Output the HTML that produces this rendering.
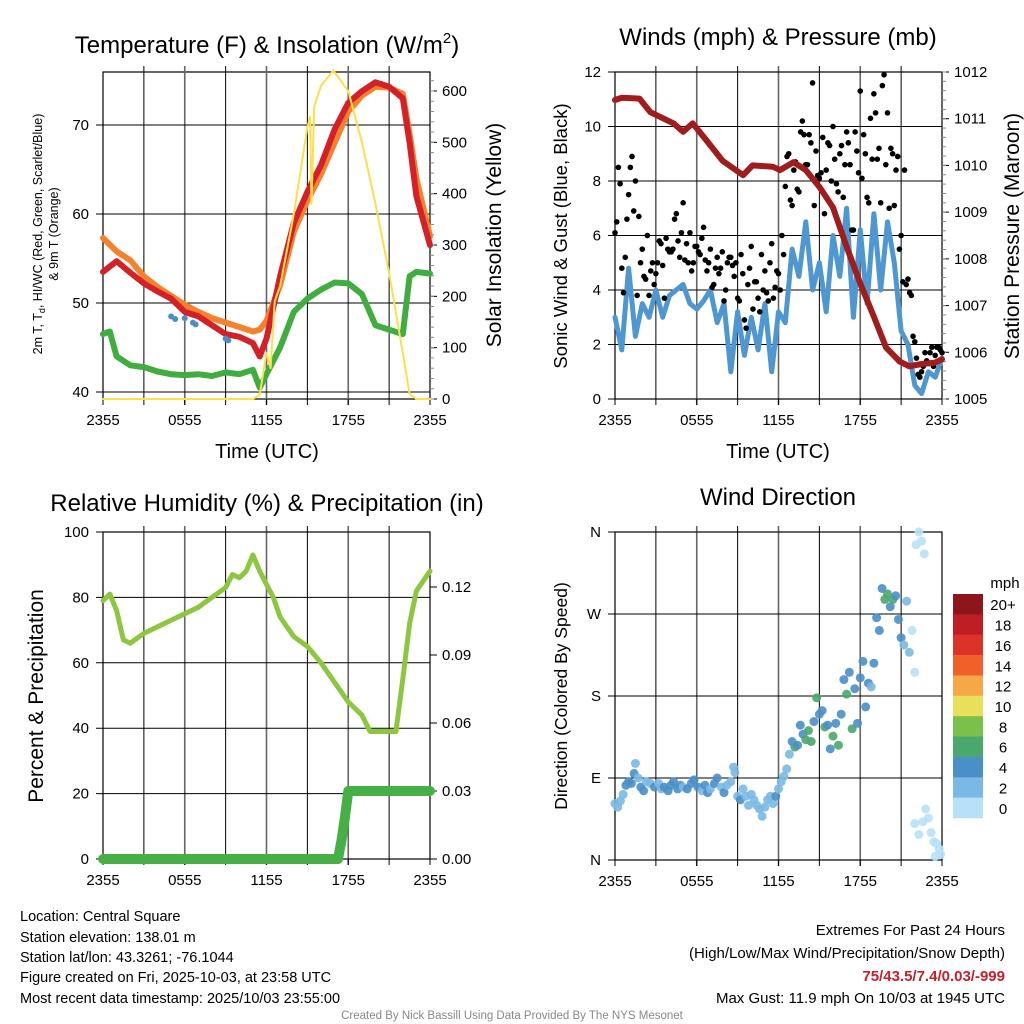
<!DOCTYPE html>
<html><head><meta charset="utf-8">
<style>
html,body{margin:0;padding:0;background:#fff;}
svg{display:block;font-family:"Liberation Sans",sans-serif;}
</style></head>
<body>
<svg id="c" width="1024" height="1024" viewBox="0 0 1024 1024">
<g id="layer"></g>
<text x="267" y="53" font-size="24" text-anchor="middle">Temperature (F) &amp; Insolation (W/m<tspan font-size="15" dy="-10">2</tspan><tspan dy="10">)</tspan></text>
<text x="778" y="45" font-size="24" text-anchor="middle">Winds (mph) &amp; Pressure (mb)</text>
<text x="267" y="511" font-size="24" text-anchor="middle">Relative Humidity (%) &amp; Precipitation (in)</text>
<text x="778" y="505" font-size="24" text-anchor="middle">Wind Direction</text>

<text x="267" y="458" font-size="20" text-anchor="middle">Time (UTC)</text>
<text x="778" y="458" font-size="20" text-anchor="middle">Time (UTC)</text>

<g font-size="12.5" text-anchor="middle">
<text transform="translate(42,234) rotate(-90)">2m T, T<tspan font-size="9" dy="3">d</tspan><tspan dy="-3">, HI/WC (Red, Green, Scarlet/Blue)</tspan></text>
<text transform="translate(58,234) rotate(-90)">&amp; 9m T (Orange)</text>
</g>
<text transform="translate(501,235) rotate(-90)" font-size="21" text-anchor="middle">Solar Insolation (Yellow)</text>
<text transform="translate(567,236) rotate(-90)" font-size="18.5" text-anchor="middle">Sonic Wind &amp; Gust (Blue, Black)</text>
<text transform="translate(1019,236) rotate(-90)" font-size="21" text-anchor="middle">Station Pressure (Maroon)</text>
<text transform="translate(43,696) rotate(-90)" font-size="21" text-anchor="middle">Percent &amp; Precipitation</text>
<text transform="translate(567,696) rotate(-90)" font-size="17.5" text-anchor="middle">Direction (Colored By Speed)</text>

<g font-size="14.5">
<text x="20" y="921">Location: Central Square</text>
<text x="20" y="942">Station elevation: 138.01 m</text>
<text x="20" y="962">Station lat/lon: 43.3261; -76.1044</text>
<text x="20" y="982">Figure created on Fri, 2025-10-03, at 23:58 UTC</text>
<text x="20" y="1003">Most recent data timestamp: 2025/10/03 23:55:00</text>
</g>
<g font-size="15" text-anchor="end">
<text x="1005" y="935">Extremes For Past 24 Hours</text>
<text x="1005" y="958">(High/Low/Max Wind/Precipitation/Snow Depth)</text>
<text x="1005" y="981" fill="#c8202a" font-weight="bold">75/43.5/7.4/0.03/-999</text>
<text x="1005" y="1003">Max Gust: 11.9 mph On 10/03 at 1945 UTC</text>
</g>
<text x="512" y="1019" font-size="11.5" fill="#888" text-anchor="middle">Created By Nick Bassill Using Data Provided By The NYS Mesonet</text>
</svg>
<script>
// ---- data ----
const tickLabels = ['2355','0555','1155','1755','2355'];
const tempHours = [0,1,2,3,4,5,6,7,8,9,10,11,11.5,12,13,14,15,16,17,18,19,20,21,22,22.5,23,24];
const tempRed   = [53.5,54.7,53.4,52.2,51.3,50.5,49,48.5,47.5,46.5,46.2,45.5,44,46,53,59,62.5,65.5,69.5,72.5,73.8,74.8,74.3,73,68,62,56.5];
const temp9m    = [57.3,55.8,54.8,53,51.8,50.8,49.8,49,48.3,47.8,47.3,46.8,47,48,52,58,61.5,64.5,68,71.5,73.3,74.3,74.2,73.5,69,64,57.5];
const dewHours  = [0,0.5,1,2,3,4,5,6,7,8,9,10,11,11.5,12,13,14,15,16,17,18,19,20,21,22,22.5,23,24];
const dewVals   = [46.5,46.8,44,43,42.8,42.3,42,41.9,42,41.8,42.2,42,42.5,40.5,42,45,49,50.5,51.5,52.3,52.2,51,47.5,47,46.5,53,53.5,53.3];
const wcHours   = [5,5.3,6,6.6,6.8,9,9.2];
const wcVals    = [48.5,48.2,48.3,47.8,47.6,46,45.8];
const solHours  = [0,11,11.5,12,12.3,12.6,13,14,15,15.2,15.3,15.5,16,16.9,18,19,20,21,22,22.5,23,24];
const solVals   = [0,0,8,90,60,190,220,360,530,550,380,570,610,640,600,500,380,245,90,10,0,0];
const windHours = [0,0.5,1,1.5,2,2.5,3,3.5,4,4.5,5,5.5,6,6.5,7,7.5,8,8.5,9,9.5,10,10.5,11,11.5,12,12.5,13,13.5,14,14.5,15,15.5,16,16.5,17,17.5,18,18.5,19,19.5,20,20.5,21,21.5,22,22.5,23,23.5,24];
const windVals  = [3.0,1.8,4.8,2.3,3.5,3.0,4.0,3.0,3.8,4.0,4.2,3.5,3.3,3.6,4.0,2.8,3.5,1.0,3.2,1.6,3.0,1.8,3.5,1.0,3.2,2.8,5.5,4.5,6.5,4.0,5.0,3.2,6.0,4.5,7.0,3.0,6.2,3.5,6.8,4.0,6.5,5.0,2.5,2.0,0.5,0.2,1.0,0.8,1.5];
const gustA = [6.1,8.5,4.8,5.2, 7.5,8.9,8.0,6.7, 5.5,4.4,3.8,5.0, 4.6,5.8,4.9,5.9, 5.4,5.5,6.8,5.2, 7.2,5.7,6.1,5.0, 5.6,5.3,6.3,4.7, 5.5,4.2,5.2,4.8, 3.6,5.0,5.2,4.5, 3.7,5.3,2.9,4.2, 5.6,4.3,3.7,5.3, 4.7,3.6,5.7,4.1, 4.6,6.0,7.8,9.0, 7.1,8.7,7.6,10.2, 8.6,9.7,11.6,9.1, 8.1,9.6,8.4,9.3, 10.0,7.9,9.0,7.4, 9.8,8.6,6.2,9.1, 11.3,9.7,7.4,10.3, 11.2,8.8,7.2,11.9, 10.5,9.2,7.1,8.9, 6.0,8.4,4.4,3.8, 2.1,0.9,1.0,1.7, 1.3,1.9,1.6,1.9,1.7];
const gustB = [6.5,7.9,3.9,6.6, 8.5,6.9,3.8,5.0, 4.5,6.0,4.7,4.2, 5.0,5.7,3.7,5.5, 5.4,6.6,5.8,6.1, 5.1,5.0,4.7,5.6, 5.4,5.9,5.1,5.0, 4.1,4.8,4.6,5.4, 4.0,5.2,4.9,5.0, 3.6,4.6,2.6,4.8, 3.3,4.3,3.2,4.0, 3.9,5.0,3.7,4.7, 4.0,5.3,8.9,7.3, 8.4,7.7,9.8,9.7, 8.6,9.4,7.1,8.2, 8.3,6.8,9.4,8.0, 8.8,7.6,9.3,8.6, 9.4,6.2,9.8,8.3, 8.1,9.0,7.2,8.8, 10.5,9.2,11.5,8.6, 7.0,9.0,8.4,5.5, 4.3,4.2,3.9,2.3, 1.5,0.8,1.2,1.4, 1.7,1.2,1.9,1.8];
const presHours = [0,0.5,1.8,2.6,3.3,4.3,5,5.7,6.7,7.9,9.4,10.1,11.6,12.1,13.1,14,15,16,17,18,19,19.9,20.9,21.6,22.5,23.5,24];
const presVals  = [1011.4,1011.45,1011.43,1011.14,1011.04,1010.9,1010.72,1010.9,1010.54,1010.1,1009.79,1010.0,1009.97,1009.9,1010.07,1009.9,1009.54,1009.1,1008.26,1007.47,1006.76,1006.1,1005.8,1005.7,1005.75,1005.78,1005.85];
const rhHours = [0,0.5,1,1.5,2,3,4,5,6,7,8,9,9.5,10,10.5,11,11.5,12,12.5,13,13.5,14,15,16,17,18,19,19.6,21.5,22,22.5,23,23.5,24];
const rhVals  = [79,81,76,67,66,69,71,73,75,77,80,83,87,86,88,93,88,84,80,74,71,68,65,60,54,48,44,39,39,55,72,82,85,88];
const precipHours = [0,17.25,17.5,17.6,17.75,18,24];
const precipVals  = [0,0,0.008,0.012,0.018,0.03,0.03];
const dirHours = [0,0.2,0.4,0.6,0.8,1,1.2,1.4,1.5,1.7,1.9,2.1,2.3,2.6,2.9,3.2,3.4,3.6,3.9,4.1,4.3,4.6,4.8,5,5.3,5.6,5.8,6.1,6.4,6.6,6.8,7,7.3,7.5,7.8,8,8.2,8.5,8.7,8.8,9,9.2,9.4,9.6,9.8,10,10.2,10.4,10.6,10.8,11,11.2,11.4,11.6,11.8,12,12.2,12.4,12.6,12.8,13,13.2,13.4,13.6,13.8,14,14.2,14.4,14.6,14.8,15,15.2,15.4,15.6,15.8,16,16.2,16.4,16.6,16.8,17,17.2,17.4,17.6,17.8,18,18.2,18.4,18.6,18.8,19,19.2,19.4,19.6,19.8,20,20.2,20.4,20.6,20.8,21,21.2,21.4,21.6,21.8,22,22.1,22.3,22.5,22.7,22,22.3,22.6,22.8,23,23.2,23.4,23.6,23.8,23.9,23.5];
const dirDeg = [62,58,65,72,82,86,84,95,106,90,80,76,86,84,80,84,78,80,76,82,86,78,82,80,78,84,88,80,76,82,74,78,84,90,80,74,82,86,102,96,70,66,78,70,60,72,66,60,56,48,58,66,70,62,70,78,86,92,100,116,130,124,126,148,138,132,142,130,152,178,160,164,146,148,122,136,150,126,160,198,182,206,144,188,150,200,218,168,194,190,216,266,252,298,286,292,278,286,290,264,244,236,284,228,252,206,346,360,350,336,40,28,42,56,46,30,20,18,12,6,4];
const dirSpeed = [3,3,3,3,4,4,4,4,3,3,4,4,3,3,4,3,3,4,4,4,4,4,4,3,4,4,4,4,3,4,4,3,4,4,3,4,3,3,2,3,3,4,3,3,2,3,3,3,3,3,3,3,3,2,4,3,3,3,3,3,4,6,4,4,4,6,6,6,4,6,4,4,6,4,4,6,4,6,4,4,6,4,6,4,4,4,4,4,4,3,4,4,4,4,6,6,4,6,4,4,4,3,3,3,1,1,1,1,1,1,1,1,1,1,1,1,1,1,1,1,1];
const cbLabels = ['20+','18','16','14','12','10','8','6','4','2','0'];
const cbColors = ['#8e1519','#bf1e24','#dc3328','#ef6128','#f6a847','#e8e05a','#7bc04a','#4aa86c','#4a8fc8','#7ab9e4','#b6e1f8'];

// ---- drawing ----
const NS='http://www.w3.org/2000/svg';
const layer=document.getElementById('layer');
function mk(tag,attrs,parent){const e=document.createElementNS(NS,tag);for(const k in attrs)e.setAttribute(k,attrs[k]);(parent||layer).appendChild(e);return e;}
function speedColor(s){const i=Math.min(10,Math.floor(s/2));return cbColors[10-i];}

const P1={L:103,R:430,T:72,B:399};
const P2={L:615,R:942,T:72,B:399};
const P3={L:103,R:430,T:532,B:859};
const P4={L:615,R:942,T:532,B:860};
function xs(p,h){return p.L+h/24*(p.R-p.L);}
function lin(d0,d1,r0,r1){return v=>r0+(v-d0)/(d1-d0)*(r1-r0);}

function frame(p,name){
  const g=mk('g',{});
  
  
  mk('rect',{x:p.L,y:p.T,width:p.R-p.L,height:p.B-p.T,fill:'none',stroke:'#000','stroke-width':1.2},g);
  for(let i=1;i<8;i++){const x=xs(p,i*3);mk('line',{x1:x,x2:x,y1:p.T-6,y2:p.B+6,stroke:i%2?'#000':'#666','stroke-width':i%2?1:1.6},g);}
  for(let i=0;i<5;i++){const x=xs(p,i*6);
    mk('line',{x1:x,x2:x,y1:p.B,y2:p.B+6,stroke:'#000'},g);
    const t=mk('text',{x:x,y:p.B+26,'font-size':15,'text-anchor':'middle'},g);t.textContent=tickLabels[i];}
  return g;
}
function yaxisLeft(p,vals,sc,labels,g){
  vals.forEach((v,i)=>{const y=sc(v);
    mk('line',{x1:p.L-7,x2:p.R,y1:y,y2:y,stroke:'#000','stroke-width':1},g);
    const t=mk('text',{x:p.L-14,y:y+5,'font-size':15,'text-anchor':'end'},g);t.textContent=labels[i];});
}
function yaxisRight(p,vals,sc,labels,g,minor){
  vals.forEach((v,i)=>{const y=sc(v);
    mk('line',{x1:p.R,x2:p.R+7,y1:y,y2:y,stroke:'#000'},g);
    const t=mk('text',{x:p.R+12,y:y+5,'font-size':15},g);t.textContent=labels[i];});
  if(minor)minor.forEach(v=>{const y=sc(v);mk('line',{x1:p.R,x2:p.R+4,y1:y,y2:y,stroke:'#888'},g);});
}
function line(p,hours,vals,sc,attrs,name){
  const pts=hours.map((h,i)=>xs(p,h).toFixed(1)+','+sc(vals[i]).toFixed(1)).join(' ');
  const e=mk('polyline',Object.assign({points:pts,fill:'none','stroke-linejoin':'round','stroke-linecap':'round'},attrs));
  
  
  return e;
}

// Panel 1
{const g=frame(P1,'temperature-panel');
 const ty=lin(40,70,392,125), sy=lin(0,600,399,91);
 yaxisLeft(P1,[40,50,60,70],ty,['40','50','60','70'],g);
 const mi=[];for(let v=0;v<=620;v+=20)mi.push(v);
 yaxisRight(P1,[0,100,200,300,400,500,600],sy,['0','100','200','300','400','500','600'],g,mi);
 line(P1,dewHours,dewVals,ty,{stroke:'#3fae3f','stroke-width':6},'dewpoint-line');
 line(P1,tempHours,temp9m,ty,{stroke:'#f5812d','stroke-width':6},'temp-9m-line');
 line(P1,tempHours,tempRed,ty,{stroke:'#d42027','stroke-width':6},'temp-2m-line');
 wcHours.forEach((h,i)=>{const c=mk('circle',{cx:xs(P1,h),cy:ty(wcVals[i]),r:3,fill:'#4a8fc8'});
   
   });
 line(P1,solHours,solVals,sy,{stroke:'#fbe04a','stroke-width':2},'insolation-line');
}
// Panel 2
{const g=frame(P2,'winds-panel');
 const wy=lin(0,12,399,72), py=lin(1005,1012,399,72);
 yaxisLeft(P2,[0,2,4,6,8,10,12],wy,['0','2','4','6','8','10','12'],g);
 const mi=[];for(let v=1005;v<=1012.0001;v+=0.2)mi.push(v);
 yaxisRight(P2,[1005,1006,1007,1008,1009,1010,1011,1012],py,['1005','1006','1007','1008','1009','1010','1011','1012'],g,mi);
 line(P2,windHours,windVals,wy,{stroke:'#4e97d1','stroke-width':5},'wind-speed-line');
 gustA.forEach((v,i)=>{const c=mk('circle',{cx:xs(P2,i*0.25),cy:wy(v),r:2.8,fill:'#000'});
   
   });
 gustB.forEach((v,i)=>{const c=mk('circle',{cx:xs(P2,i*0.25+0.125),cy:wy(v),r:2.8,fill:'#000'});
   
   });
 line(P2,presHours,presVals,py,{stroke:'#a11c1c','stroke-width':6},'pressure-line');
}
// Panel 3
{const g=frame(P3,'humidity-panel');
 const ry=lin(0,100,859,532), qy=lin(0,0.12,859,587);
 yaxisLeft(P3,[0,20,40,60,80,100],ry,['0','20','40','60','80','100'],g);
 yaxisRight(P3,[0,0.03,0.06,0.09,0.12],qy,['0.00','0.03','0.06','0.09','0.12'],g,[]);
 line(P3,rhHours,rhVals,ry,{stroke:'#8dc63f','stroke-width':5},'humidity-line');
 line(P3,precipHours,precipVals,qy,{stroke:'#46b046','stroke-width':10},'precipitation-line');
}
// Panel 4
{const g=frame(P4,'wind-direction-panel');
 const dy=lin(0,360,860,532);
 yaxisLeft(P4,[0,90,180,270,360],dy,['N','E','S','W','N'],g);
 dirHours.forEach((h,i)=>{const c=mk('circle',{cx:xs(P4,h),cy:dy(dirDeg[i]),r:4.5,fill:speedColor(dirSpeed[i]),'fill-opacity':0.9});
   
   });
 const cb=mk('g',{});
 
 
 const h=(818-594)/11;
 cbColors.forEach((c,i)=>{mk('rect',{x:953,y:594+i*h,width:30,height:h+0.3,fill:c},cb);
   const t=mk('text',{x:1003,y:594+i*h+h/2+6,'font-size':15,'text-anchor':'middle'},cb);t.textContent=cbLabels[i];});
 const t=mk('text',{x:1005,y:588,'font-size':15,'text-anchor':'middle'},cb);t.textContent='mph';
}
</script>
</body></html>
